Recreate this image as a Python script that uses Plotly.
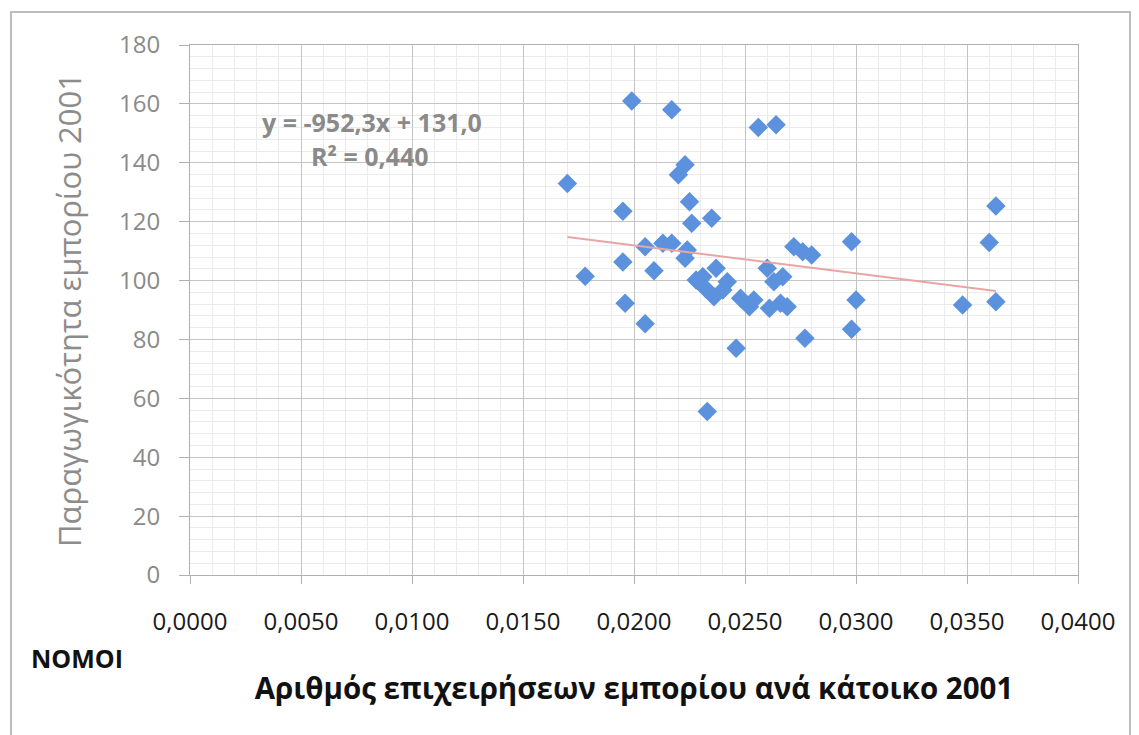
import plotly.graph_objects as go

# Data
x_values = [0.0170, 0.0178, 0.0195, 0.0195, 0.0196, 0.0199, 0.0205, 0.0205, 0.0209,
            0.0213, 0.0217, 0.0217, 0.0220, 0.0223, 0.0224, 0.0223, 0.0225, 0.0226,
            0.0235, 0.0228, 0.0231, 0.0237, 0.0242, 0.0236, 0.0240, 0.0232, 0.0233,
            0.0246, 0.0248, 0.0254, 0.0252, 0.0256, 0.0264, 0.0260, 0.0263, 0.0267,
            0.0261, 0.0266, 0.0269, 0.0272, 0.0276, 0.0280, 0.0277, 0.0298, 0.0300,
            0.0298, 0.0348, 0.0360, 0.0363, 0.0363]
y_values = [133.0, 101.5, 123.5, 106.3, 92.3, 161.0, 85.3, 111.5, 103.3,
            112.7, 112.7, 158.0, 135.9, 139.3, 110.4, 107.6, 126.8, 119.5,
            121.2, 100.2, 101.3, 104.2, 99.6, 94.5, 96.8, 97.5, 55.5,
            77.0, 94.0, 93.4, 91.1, 152.0, 152.9, 104.2, 99.6, 101.3,
            90.6, 92.3, 91.1, 111.5, 109.8, 108.7, 80.4, 113.2, 93.4,
            83.5, 91.7, 112.9, 125.3, 92.8]

trend_slope = -952.3
trend_intercept = 131.0
equation_text = "y = -952,3x + 131,0"
r2_text = "R² = 0,440"

x_title = "Αριθμός επιχειρήσεων εμπορίου ανά κάτοικο 2001"
y_title = "Παραγωγικότητα εμπορίου 2001"
corner_label = "ΝΟΜΟΙ"

FONT = "Open Sans"

trend_x = [min(x_values), max(x_values)]
trend_y = [trend_intercept + trend_slope * v for v in trend_x]

fig = go.Figure()
fig.add_trace(go.Scatter(
    x=x_values, y=y_values, mode="markers",
    marker=dict(symbol="diamond", size=15, color="#5C92DD", line=dict(width=0)),
    showlegend=False, hoverinfo="x+y",
))
fig.add_trace(go.Scatter(
    x=trend_x, y=trend_y, mode="lines",
    line=dict(color="#E9A5A5", width=2),
    showlegend=False, hoverinfo="skip",
))

OFF = 8  # page body margin
L, R, T, B = 190 - OFF, 61, 45 - OFF, 160
W, H = 1139 - OFF, 735 - OFF
pw, ph = W - L - R, H - T - B

def px(xpix):
    return (xpix - OFF - L) / pw

def py(ypix):
    return (H - B - (ypix - OFF)) / ph

fig.update_layout(
    width=W, height=H,
    margin=dict(l=L, r=R, t=T, b=B, pad=0),
    paper_bgcolor="white", plot_bgcolor="white",
    separators=",.",
    font=dict(family=FONT, color="#222222"),
    xaxis=dict(
        range=[0, 0.04], dtick=0.005, tick0=0, tickformat=".4f",
        showgrid=True, gridcolor="#C4C4C4", gridwidth=1,
        minor=dict(dtick=0.001, showgrid=True, gridcolor="#EBEBEB", gridwidth=1),
        ticks="outside", ticklen=8, tickcolor="#B0B0B0",
        showline=True, linecolor="#B0B0B0", mirror=True,
        zeroline=False,
        tickfont=dict(size=24, color="#1A1A1A", family=FONT),
        ticklabelstandoff=17,
        title=dict(text="<b>" + x_title + "</b>", font=dict(size=29.5, color="#111111", family=FONT), standoff=42),
    ),
    yaxis=dict(
        range=[0, 180], dtick=20, tick0=0,
        showgrid=True, gridcolor="#C4C4C4", gridwidth=1,
        minor=dict(dtick=4, showgrid=True, gridcolor="#EBEBEB", gridwidth=1),
        ticks="outside", ticklen=10, tickcolor="#B0B0B0",
        showline=True, linecolor="#B0B0B0", mirror=True,
        zeroline=False,
        tickfont=dict(size=24, color="#8A8A8A", family=FONT),
        ticklabelstandoff=14,
        title=dict(text=y_title, font=dict(size=31, color="#8C8C8C", family=FONT), standoff=28),
    ),
    annotations=[
        dict(text="<b>" + equation_text + "</b>", x=px(372), y=py(122), xref="paper", yref="paper",
             showarrow=False, font=dict(size=25, color="#8A8A8A", family=FONT),
             xanchor="center", yanchor="middle"),
        dict(text="<b>" + r2_text + "</b>", x=px(370), y=py(156), xref="paper", yref="paper",
             showarrow=False, font=dict(size=25, color="#8A8A8A", family=FONT),
             xanchor="center", yanchor="middle"),
        dict(text="<b>" + corner_label + "</b>", x=px(77), y=py(658), xref="paper", yref="paper",
             showarrow=False, font=dict(size=25, color="#111111", family=FONT),
             xanchor="center", yanchor="middle"),
    ],
    shapes=[
        dict(type="rect", xref="paper", yref="paper",
             x0=px(11), x1=px(1130), y0=py(745), y1=py(12),
             line=dict(color="#BDBDBD", width=2), fillcolor="rgba(0,0,0,0)", layer="below"),
    ],
)

fig.write_html("out.html")
